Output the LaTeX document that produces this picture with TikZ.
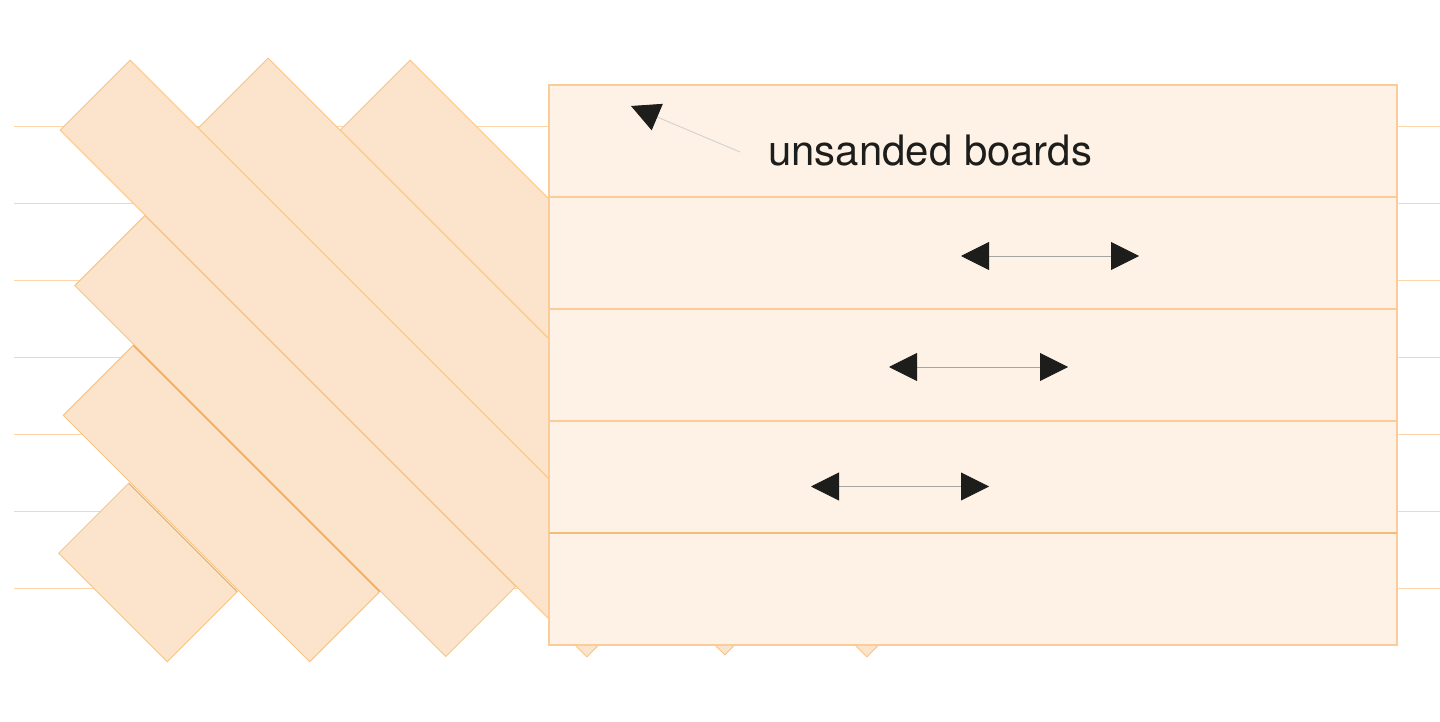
\documentclass[tikz,border=0pt]{standalone}
\usepackage{fontspec}
\setmainfont{TeX Gyre Heros}
\usepackage{tikz}
\usetikzlibrary{arrows.meta,positioning}
\definecolor{boardfill}{RGB}{252,228,204}
\definecolor{boardedge}{RGB}{248,196,134}
\definecolor{plankfill}{RGB}{254,241,229}
\definecolor{plankedge}{RGB}{249,204,152}
\definecolor{guide}{RGB}{252,214,170}
\definecolor{ink}{RGB}{29,29,27}
\tikzset{
  board/.style={draw=boardedge,fill=boardfill,line width=0.55pt,rotate=-45,inner sep=0pt,outer sep=0pt,minimum height=1.98cm},
  plank/.style={draw=plankedge,fill=plankfill,line width=0.62pt,inner sep=0pt,outer sep=0pt,minimum width=16.96cm,minimum height=2.24cm},
  arr/.style={{Triangle[length=5.6mm,width=5.6mm,color=ink,fill=ink]}-{Triangle[length=5.6mm,width=5.6mm,color=ink,fill=ink]},draw=ink!40,line width=0.5pt},
  tipone/.style={-{Triangle[length=5.7mm,width=5.7mm,color=ink,fill=ink]},draw=ink!20,line width=0.5pt}
}
\begin{document}
\begin{tikzpicture}
\useasboundingbox (0,0) rectangle (28.8,-14.44);
% lines behind the boards
\foreach \i/\y in {1/-2.53,2/-4.07,3/-5.61,4/-7.15,5/-8.69,6/-10.23,7/-11.77}{
  \coordinate (gl\i) at (0.27,\y);
  \coordinate (gr\i) at (28.8,\y);
  \draw[guide,line width=0.7pt] (gl\i)--(gr\i);
}
% diagonal boards
\node[board,minimum width=3.07cm] (b6) at (2.96,-11.45) {};
\node[board,minimum width=6.97cm] (b5) at (4.43,-10.07) {};
\node[board,minimum width=10.49cm] (b4) at (5.906,-8.72) {};
\node[board,minimum width=14.9cm] (b3) at (12.77,-7.17) {};
\node[board,minimum width=14.9cm] (b2) at (9.93,-7.13) {};
\node[board,minimum width=14.9cm] (b1) at (7.17,-7.17) {};
\draw[color={rgb,255:red,226;green,186;blue,140},line width=0.7pt] (b6.north west)--(b6.north east);
\draw[color={rgb,255:red,240;green,168;blue,84},line width=0.7pt] (b5.north west)--(b5.north east);
% planks on top
\node[plank] (p1) at (19.46,-2.82) {};
\node[plank] (p2) at (19.46,-5.06) {};
\node[plank] (p3) at (19.46,-7.30) {};
\node[plank] (p4) at (19.46,-9.54) {};
\node[plank] (p5) at (19.46,-11.78) {};
\draw[color={rgb,255:red,243;green,188;blue,120},line width=0.7pt] (p4.south west)--(p4.south east);
% label and arrows
\node[anchor=base west,inner sep=0pt,text=ink,font=\fontsize{23.85}{28}\selectfont] (lab) at (15.36,-3.32) {unsanded boards};
\coordinate (a0) at (14.8,-3.04);
\coordinate (a1) at (12.62,-2.12);
\draw[tipone] (a0)--(a1);
\coordinate (s1) at (19.22,-5.12); \coordinate (e1) at (22.78,-5.12);
\coordinate (s2) at (17.78,-7.34); \coordinate (e2) at (21.36,-7.34);
\coordinate (s3) at (16.22,-9.73); \coordinate (e3) at (19.78,-9.73);
\draw[arr] (s1)--(e1);
\draw[arr] (s2)--(e2);
\draw[arr] (s3)--(e3);
\end{tikzpicture}
\end{document}
